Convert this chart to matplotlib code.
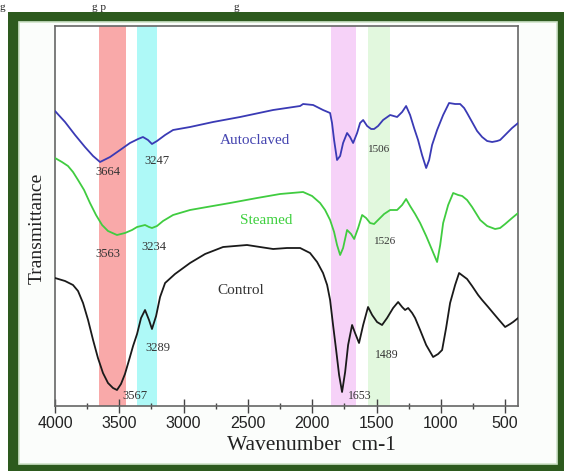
import matplotlib
matplotlib.use("Agg")
import matplotlib.pyplot as plt
from matplotlib.patches import Rectangle
import numpy as np

W, H = 564, 471

# ---- data (wavenumber cm-1, relative transmittance) ----
auto_wn = [4000, 3922, 3844, 3767, 3704, 3650, 3572, 3494, 3417, 3354, 3316, 3277, 3246, 3207, 3144, 3082,
           2950, 2771, 2561, 2304, 2094, 2071, 1993, 1916, 1861, 1846, 1830, 1807, 1783, 1760, 1729, 1706,
           1682, 1651, 1628, 1604, 1573, 1542, 1519, 1488, 1449, 1394, 1340, 1301, 1270, 1239, 1208, 1177,
           1146, 1114, 1091, 1068, 1029, 982, 936, 889, 850, 819, 796, 757, 718, 679, 640, 601, 562, 539,
           500, 446, 399]
auto_t = [295, 284, 271, 259, 250, 244, 249, 256, 263, 267, 269, 266, 262, 265, 271, 276,
          279, 284, 289, 296, 300, 302, 301, 296, 293, 283, 266, 246, 250, 263, 273, 269,
          263, 273, 283, 286, 280, 277, 277, 280, 286, 291, 289, 294, 300, 291, 278, 266,
          251, 238, 246, 261, 276, 291, 303, 302, 302, 298, 293, 284, 275, 269, 265, 264, 265, 266,
          271, 278, 283]

steam_wn = [4000, 3946, 3899, 3860, 3821, 3774, 3728, 3681, 3634, 3588, 3518, 3456, 3401, 3362, 3331, 3300,
            3269, 3246, 3207, 3160, 3082, 2950, 2818, 2639, 2429, 2250, 2071, 2001, 1939, 1900, 1861, 1830,
            1807, 1783, 1760, 1729, 1698, 1674, 1643, 1612, 1581, 1550, 1519, 1488, 1441, 1394, 1340, 1301,
            1270, 1239, 1200, 1161, 1114, 1068, 1029, 1005, 982, 943, 904, 865, 834, 796, 757, 694, 640,
            578, 539, 500, 446, 399]
steam_t = [248, 244, 240, 234, 226, 216, 203, 191, 181, 175, 171, 173, 176, 179, 180, 181,
           179, 178, 180, 185, 191, 196, 199, 203, 208, 212, 214, 210, 203, 196, 186, 174,
           161, 151, 158, 176, 172, 167, 178, 191, 188, 183, 182, 186, 192, 196, 196, 201,
           207, 200, 192, 183, 170, 156, 144, 161, 183, 201, 213, 211, 210, 206, 199, 186, 180,
           177, 178, 182, 188, 193]

ctrl_wn = [4000, 3922, 3860, 3821, 3782, 3743, 3704, 3666, 3627, 3588, 3549, 3518, 3487, 3456, 3424, 3393,
           3362, 3331, 3300, 3269, 3246, 3214, 3183, 3144, 3067, 2950, 2833, 2693, 2507, 2406, 2304, 2196,
           2094, 2017, 1962, 1916, 1884, 1861, 1838, 1814, 1791, 1768, 1744, 1721, 1690, 1667, 1636, 1604,
           1566, 1534, 1496, 1457, 1418, 1371, 1332, 1301, 1278, 1254, 1223, 1200, 1161, 1114, 1060, 1021,
           990, 959, 928, 889, 858, 827, 796, 757, 710, 679, 632, 593, 547, 500, 461, 438, 399]
ctrl_t = [128, 125, 121, 115, 103, 86, 66, 48, 33, 23, 18, 16, 22, 32, 46, 60,
          72, 88, 96, 86, 77, 90, 109, 123, 132, 143, 152, 159, 161, 159, 157, 158,
          158, 153, 144, 133, 121, 106, 81, 56, 31, 14, 34, 61, 81, 73, 63, 81,
          99, 91, 84, 81, 88, 98, 104, 99, 96, 98, 93, 88, 76, 61, 49, 52,
          56, 78, 103, 121, 133, 130, 127, 120, 111, 106, 99, 93, 86, 79, 82, 84, 88]

bands = [(3658, 3448, "#f9a9a9"), (3365, 3209, "#aef9f7"), (1854, 1659, "#f6d2f8"), (1564, 1395, "#e2f8de")]

peak_labels = [("3664", 3588, 234, 9), ("3247", 3207, 245, 9), ("3563", 3588, 152, 9), ("3234", 3230, 159, 9),
               ("3289", 3199, 58, 9), ("3567", 3378, 10, 9), ("1506", 1480, 257, 8), ("1526", 1433, 165, 8),
               ("1489", 1418, 51, 8.5), ("1653", 1628, 10, 8.5)]
names = [("Autoclaved", 2444, 265, "#4545b0"), ("Steamed", 2359, 185, "#3fd03f"), ("Control", 2553, 115, "#333333")]
xticks = [4000, 3500, 3000, 2500, 2000, 1500, 1000, 500]

fig = plt.figure(figsize=(W / 100, H / 100), dpi=100)
fig.patch.set_facecolor("white")

def px_rect(x0, y0, x1, y1, **kw):
    r = Rectangle((x0 / W, 1 - y1 / H), (x1 - x0) / W, (y1 - y0) / H,
                  transform=fig.transFigure, **kw)
    fig.add_artist(r)

# frame
px_rect(8, 12, 566, 473, facecolor="#2d5a1e", edgecolor="none", zorder=0)
px_rect(19, 22, 557, 464, facecolor="#fbfdfb", edgecolor="#cfe3c9", linewidth=1.2, zorder=0.5)

# partial caption text at top
for s, x in [("g", 0), ("g p", 92), ("g", 233)]:
    fig.text(x / W, 1 - 11.5 / H, s, family="Liberation Serif", fontsize=8, va="bottom", ha="left", color="#222222")

ax = fig.add_axes([55 / W, 1 - 406 / H, (518 - 55) / W, (406 - 26) / H])
ax.set_zorder(2)
ax.set_facecolor("white")
ax.set_xlim(4000, 400)
ax.set_ylim(0, 380)

for a, b, c in bands:
    ax.axvspan(b, a, color=c, lw=0, zorder=1)

kw = dict(lw=1.3, zorder=3, solid_joinstyle="round", solid_capstyle="round")
ax.plot(auto_wn, auto_t, color="#3a3ab5", **kw)
ax.plot(steam_wn, steam_t, color="#40cc40", **kw)
ax.plot(ctrl_wn, ctrl_t, color="#1a1a1a", **kw)

for s, x, y, fs in peak_labels:
    ax.text(x, y, s, family="Liberation Serif", fontsize=fs, color="#333333", ha="center", va="center", zorder=4)
for s, x, y, c in names:
    ax.text(x, y, s, family="Liberation Serif", fontsize=11, color=c, ha="center", va="center", zorder=4)

ax.set_xticks(xticks)
ax.set_xticklabels([str(v) for v in xticks], family="Liberation Sans", fontsize=11.5, color="#222222")
ax.set_xticks(np.arange(3750, 400, -500), minor=True)
ax.tick_params(axis="x", which="major", direction="inout", length=10, width=1, color="#444444", pad=2)
ax.tick_params(axis="x", which="minor", direction="inout", length=5, width=1, color="#444444")
ax.set_yticks([])
for sp in ax.spines.values():
    sp.set_color("#666666")
    sp.set_linewidth(1.2)

ax.set_xlabel("Wavenumber  cm-1", family="Liberation Serif", fontsize=15.5, color="#222222", va="center")
ax.xaxis.set_label_coords((311 - 55) / 463, (406 - 446) / 380)
ax.set_ylabel("Transmittance", family="Liberation Serif", fontsize=14, color="#222222", va="center")
ax.yaxis.set_label_coords((37 - 55) / 463, (406 - 228) / 380)

fig.savefig("out.png", dpi=100)
